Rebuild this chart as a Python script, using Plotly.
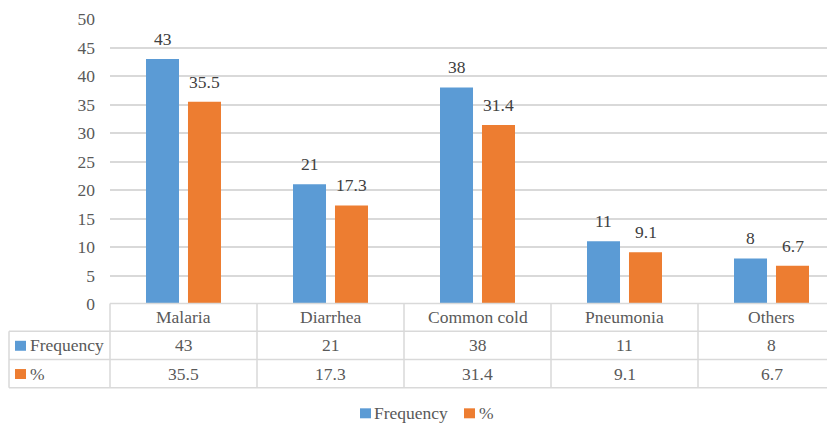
import plotly.graph_objects as go

categories = ["Malaria", "Diarrhea", "Common cold", "Pneumonia", "Others"]
frequency = [43, 21, 38, 11, 8]
percent = [35.5, 17.3, 31.4, 9.1, 6.7]
series_names = ["Frequency", "%"]
y_ticks = [0, 5, 10, 15, 20, 25, 30, 35, 40, 45, 50]

BLUE = "#5B9BD5"
ORANGE = "#ED7D31"
GRID = "#D9D9D9"
TXT = "#595959"
FONT = "Liberation Serif"
FS = 17.5

# page body has an 8px margin: shift everything by it
OFF = 8
W, H = 835 - OFF, 426 - OFF
L, R_EDGE = 110 - OFF, 835 - OFF
TOP, BOT = 19 - OFF, 304.5 - OFF
CAT_PX = 147.0

def py(p):
    return (BOT - (p - OFF)) / (BOT - TOP)

def px(p):
    return ((p - OFF) - L) / (R_EDGE - L)

x_idx = list(range(len(categories)))
xmax = -0.5 + (R_EDGE - L) / CAT_PX

fig = go.Figure()
fig.add_trace(go.Bar(x=x_idx, y=frequency, name=series_names[0],
                     marker=dict(color=BLUE, line=dict(width=0))))
fig.add_trace(go.Bar(x=x_idx, y=percent, name=series_names[1],
                     marker=dict(color=ORANGE, line=dict(width=0))))

annotations = []
shapes = []

for i in x_idx:
    annotations.append(dict(x=i, y=frequency[i], xref="x", yref="y", text=str(frequency[i]),
                            showarrow=False, xshift=-21, yshift=8, yanchor="bottom",
                            font=dict(family=FONT, size=FS, color="#404040")))
    annotations.append(dict(x=i, y=percent[i], xref="x", yref="y", text=str(percent[i]),
                            showarrow=False, xshift=21, yshift=8, yanchor="bottom",
                            font=dict(family=FONT, size=FS, color="#404040")))

row_top = 304.0
row_lines = [331.7, 360.0, 388.3]
line_style = dict(color=GRID, width=1.5)

shapes.append(dict(type="line", xref="paper", yref="paper", x0=0, x1=1,
                   y0=py(row_top), y1=py(row_top), line=line_style, layer="above"))
for r in row_lines:
    shapes.append(dict(type="line", xref="paper", yref="paper", x0=px(9), x1=1,
                       y0=py(r), y1=py(r), line=line_style))
shapes.append(dict(type="line", xref="paper", yref="paper", x0=px(9), x1=px(9),
                   y0=py(row_lines[0]), y1=py(row_lines[-1]), line=line_style))
shapes.append(dict(type="line", xref="paper", yref="paper", x0=0, x1=0,
                   y0=py(row_top), y1=py(row_lines[-1]), line=line_style))
for i in x_idx[:-1]:
    shapes.append(dict(type="line", xref="x", yref="paper", x0=i + 0.5, x1=i + 0.5,
                       y0=py(row_top), y1=py(row_lines[-1]), line=line_style))

row_centers = [(row_top + row_lines[0]) / 2, (row_lines[0] + row_lines[1]) / 2,
               (row_lines[1] + row_lines[2]) / 2]
for i, c in enumerate(categories):
    annotations.append(dict(x=i, y=py(row_centers[0]), xref="x", yref="paper", text=c,
                            showarrow=False, yanchor="middle",
                            font=dict(family=FONT, size=FS, color=TXT)))
    annotations.append(dict(x=i, y=py(row_centers[1]), xref="x", yref="paper",
                            text=str(frequency[i]), showarrow=False, yanchor="middle",
                            font=dict(family=FONT, size=FS, color=TXT)))
    annotations.append(dict(x=i, y=py(row_centers[2]), xref="x", yref="paper",
                            text=str(percent[i]), showarrow=False, yanchor="middle",
                            font=dict(family=FONT, size=FS, color=TXT)))

for k, (name, col) in enumerate(zip(series_names, [BLUE, ORANGE])):
    yc = row_centers[k + 1]
    shapes.append(dict(type="rect", xref="paper", yref="paper", x0=px(15), x1=px(26),
                       y0=py(yc - 4.5), y1=py(yc + 5.5), fillcolor=col, line=dict(width=0)))
    annotations.append(dict(x=px(28), y=py(yc), xref="paper", yref="paper", text=name,
                            showarrow=False, xanchor="left", yanchor="middle",
                            font=dict(family=FONT, size=FS, color=TXT)))

# legend
leg_y = 414
for name, col, x0, x1, tx in [(series_names[0], BLUE, 360, 371, 372),
                              (series_names[1], ORANGE, 464, 475, 477)]:
    shapes.append(dict(type="rect", xref="paper", yref="paper", x0=px(x0), x1=px(x1),
                       y0=py(leg_y - 5), y1=py(leg_y + 5), fillcolor=col, line=dict(width=0)))
    annotations.append(dict(x=px(tx), y=py(leg_y), xref="paper", yref="paper", text=name,
                            showarrow=False, xanchor="left", yanchor="middle",
                            font=dict(family=FONT, size=FS, color=TXT)))

fig.update_layout(
    width=W, height=H,
    margin=dict(l=L, r=W - R_EDGE, t=TOP, b=H - BOT, pad=0),
    paper_bgcolor="white", plot_bgcolor="white",
    barmode="group", bargap=0.4286, bargroupgap=0.214,
    showlegend=False,
    font=dict(family=FONT, color=TXT),
    xaxis=dict(range=[-0.5, xmax], showticklabels=False, showgrid=False,
               zeroline=False, showline=False, ticks=""),
    yaxis=dict(range=[0, 50], tickvals=y_ticks, showgrid=True, gridcolor=GRID,
               gridwidth=1.5, zeroline=False, showline=False, ticks="",
               ticklabelstandoff=14,
               tickfont=dict(family=FONT, size=FS, color=TXT)),
    shapes=shapes, annotations=annotations,
)

fig.write_html("out.html")
